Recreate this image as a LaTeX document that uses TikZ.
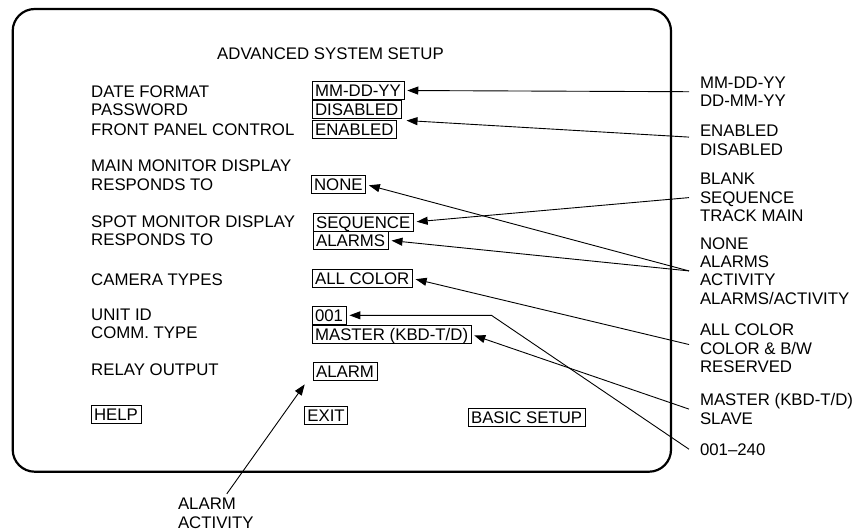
\documentclass[tikz,border=0pt]{standalone}
\usepackage{fontspec}
\setmainfont{Liberation Sans}
\usetikzlibrary{arrows.meta,calc}

\begin{document}
\begin{tikzpicture}[x=1pt,y=-1pt,
    every node/.style={font=\fontsize{16.8}{18.4}\selectfont},
    lbl/.style={anchor=west,inner sep=0pt,text height=12pt,text depth=0pt},
    val/.style={lbl,draw,line width=0.7pt,inner xsep=3pt,inner ysep=3pt},
    opts/.style={anchor=base west,inner sep=0pt,outer xsep=11pt,align=left},
    >={Triangle[length=11pt,width=8pt]},
    callout/.style={->,line width=0.9pt,shorten >=3pt}]
    \useasboundingbox (0,0) rectangle (857,531);
    % screen frame
    \draw[line width=2.2pt,rounded corners=22pt] (12.7,9) rectangle (671,471.7);
    \node[lbl] (title) at (217,53.5) {ADVANCED SYSTEM SETUP};
    % menu items
    \node[lbl] (datefmt) at (91,91) {DATE FORMAT};
    \node[lbl] (passwd) at (91,109.5) {PASSWORD};
    \node[lbl] (frontpnl) at (91,129) {FRONT PANEL CONTROL};
    \node[lbl] (mainmon) at (91,165.5) {MAIN MONITOR DISPLAY};
    \node[lbl] (mainresp) at (91,184.5) {RESPONDS TO};
    \node[lbl] (spotmon) at (91,221) {SPOT MONITOR DISPLAY};
    \node[lbl] (spotresp) at (91,239.5) {RESPONDS TO};
    \node[lbl] (camtype) at (91,279) {CAMERA TYPES};
    \node[lbl] (unitid) at (91,314) {UNIT ID};
    \node[lbl] (commtype) at (91,332.5) {COMM. TYPE};
    \node[lbl] (relay) at (91,369) {RELAY OUTPUT};
    % current values
    \node[val] (vdate) at (311.7,90.5) {MM-DD-YY};
    \node[val] (vpass) at (311.7,109.5) {DISABLED};
    \node[val] (vfront) at (311.7,129) {ENABLED};
    \node[val] (vmain) at (310.7,184.5) {NONE\hspace{7pt}};
    \node[val] (vspot) at (312.7,222) {SEQUENCE};
    \node[val] (vspotr) at (312.7,240.3) {ALARMS};
    \node[val] (vcam) at (311.7,278.5) {ALL COLOR};
    \node[val] (vunit) at (311.7,315.3) {001};
    \node[val] (vcomm) at (311.7,334.5) {MASTER (KBD-T/D)};
    \node[val] (vrelay) at (312.7,371) {ALARM\hspace{2pt}};
    \node[val] (help) at (90.7,414) {HELP};
    \node[val] (exit) at (304,415.5) {EXIT};
    \node[val] (basic) at (467.7,417.8) {BASIC SETUP};
    % choices (placed by the baseline of their last line)
    \node[opts] (odate) at (689,106.7) {MM-DD-YY\\DD-MM-YY};
    \node[opts] (ofront) at (689,155) {ENABLED\\DISABLED};
    \node[opts] (ospot) at (689,221.7) {BLANK\\SEQUENCE\\TRACK MAIN};
    \node[opts] (oresp) at (689,304.3) {NONE\\ALARMS\\ACTIVITY\\ALARMS/ACTIVITY};
    \node[opts] (ocam) at (689,372.7) {ALL COLOR\\COLOR \& B/W\\RESERVED};
    \node[opts] (ocomm) at (689,424.3) {MASTER (KBD-T/D)\\SLAVE};
    \node[opts] (ounit) at (689,455) {001--240};
    \node[opts,outer xsep=0pt] (orelay) at (178,528) {ALARM\\ACTIVITY};
    % arrows
    \draw[callout] (odate.west) -- (vdate.east);
    \coordinate (pdtip) at ($(vpass.south east)+(2,1.5)$);
    \draw[callout] ($(ofront.west)+(0,-3)$) -- (pdtip);
    \draw[callout] (ospot.west) -- (vspot.east);
    \draw[callout] (oresp.west) -- (vmain.east);
    \draw[callout] (oresp.west) -- (vspotr.east);
    \draw[callout] ($(ocam.west)+(0,-4)$) -- (vcam.east);
    \draw[callout] (ocomm.west) -- (vcomm.east);
    \coordinate (unitbend) at ($(vunit.east)+(145,0)$);
    \draw[callout] (ounit.west) -- (unitbend) -- (vunit.east);
    \coordinate (relaytip) at ($(vrelay.south west)+(-8,4)$);
    \draw[callout,shorten >=0pt] ($(orelay.north)+(11,-4)$) -- (relaytip);
\end{tikzpicture}
\end{document}
